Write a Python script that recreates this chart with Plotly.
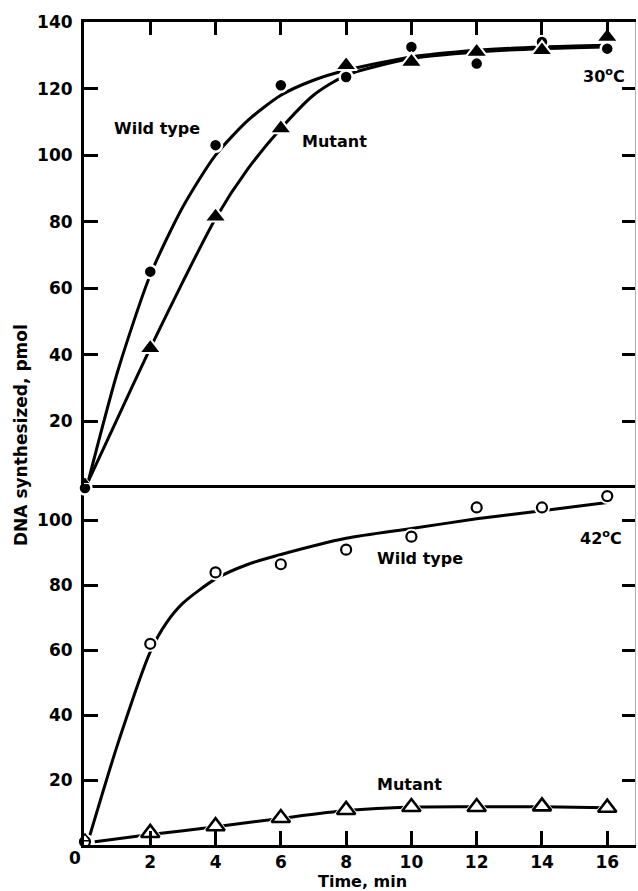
import plotly.graph_objects as go

# ---------------- data ----------------
time = [0, 2, 4, 6, 8, 10, 12, 14, 16]
wt30 = [0, 65, 103, 121, 123.5, 132.5, 127.5, 134, 132]
mut30 = [2, 42, 81.5, 108, 127, 128, 131, 131.5, 135.5]
wt42 = [1, 62, 84, 86.5, 91, 95, 104, 104, 107.5]
mut42 = [2, 3.7, 5.8, 8.3, 10.8, 11.7, 11.7, 11.9, 11.5]

# fitted curves as drawn in the figure (read at several times)
wt30_curve_t = [0.1, 1, 2, 3, 4, 5, 6, 7, 8, 10, 12, 14, 16]
wt30_curve_v = [2, 35, 64, 84.5, 100, 110.5, 118, 122.5, 125.5, 129.5, 131.5, 132.5, 133]
mut30_curve_t = [0.1, 1, 2, 3, 4, 5, 6, 7, 8, 10, 12, 14, 16]
mut30_curve_v = [2, 21, 42, 62, 81, 96, 108, 118, 124, 129, 131, 132, 132.5]
wt42_curve_t = [0.15, 1, 2, 2.5, 3, 4, 5, 6, 8, 10, 12, 14, 16]
wt42_curve_v = [3, 31, 59.5, 68.5, 74.5, 82, 86.5, 89.5, 94.5, 97.5, 100.5, 103, 105.5]
mut42_curve_t = [0.3, 2, 4, 6, 8, 10, 12, 14, 16]
mut42_curve_v = [1, 3.2, 5.6, 8.2, 10.6, 11.7, 11.8, 11.8, 11.5]

x_ticks = [2, 4, 6, 8, 10, 12, 14, 16]
top_y_ticks = [20, 40, 60, 80, 100, 120, 140]
bot_y_ticks = [20, 40, 60, 80, 100]

FONT = "DejaVu Sans"
LW = 3

fig = go.Figure()


def curve(t, v, xa, ya):
    fig.add_trace(go.Scatter(x=t, y=v, mode="lines", xaxis=xa, yaxis=ya,
                             line=dict(color="black", width=LW, shape="spline", smoothing=0.7),
                             hoverinfo="skip", showlegend=False, cliponaxis=False))


def pts(t, v, xa, ya, marker):
    fig.add_trace(go.Scatter(x=t, y=v, mode="markers", xaxis=xa, yaxis=ya, marker=marker,
                             showlegend=False, cliponaxis=False))


# top panel (30 C)
curve(wt30_curve_t, wt30_curve_v, "x2", "y2")
curve(mut30_curve_t, mut30_curve_v, "x2", "y2")
pts(time, wt30, "x2", "y2",
    dict(symbol="circle", size=13, color="#000000", line=dict(color="#ffffff", width=2.5)))
pts(time[1:], mut30[1:], "x2", "y2",
    dict(symbol="triangle-up", size=19, color="#000000", line=dict(color="#ffffff", width=2)))
pts(time[:1], mut30[:1], "x2", "y2",
    dict(symbol="triangle-up", size=9, color="#000000", line=dict(color="#ffffff", width=1)))

# bottom panel (42 C)
curve(wt42_curve_t, wt42_curve_v, "x", "y")
curve(mut42_curve_t, mut42_curve_v, "x", "y")
pts(time, wt42, "x", "y", dict(symbol="circle", size=16, color="#ffffff"))
pts(time, wt42, "x", "y",
    dict(symbol="circle", size=10, color="#ffffff", line=dict(color="#000000", width=2.2)))
pts(time[1:], mut42[1:], "x", "y", dict(symbol="triangle-up", size=23, color="#ffffff"))
pts(time[1:], mut42[1:], "x", "y",
    dict(symbol="triangle-up", size=16, color="#ffffff", line=dict(color="#000000", width=2.6)))
pts(time[:1], mut42[:1], "x", "y",
    dict(symbol="triangle-up", size=9, color="#ffffff", line=dict(color="#000000", width=1.5)))

# invisible traces for the right-hand tick axes
fig.add_trace(go.Scatter(x=[None], y=[None], xaxis="x", yaxis="y3", showlegend=False))
fig.add_trace(go.Scatter(x=[None], y=[None], xaxis="x2", yaxis="y4", showlegend=False))

split = 357 / 823
xr = [-0.03, 16.85]
tickfont = dict(family=FONT, size=17, color="black", weight="bold")

common_y = dict(ticks="inside", ticklen=14, tickwidth=LW, tickcolor="black",
                showline=True, linecolor="black", linewidth=LW, showgrid=False,
                zeroline=False, tickfont=tickfont, ticklabelstandoff=5)
right_y = dict(side="right", ticks="inside", ticklen=13, tickwidth=LW, tickcolor="black",
               showline=True, linecolor="#b0b0b0", linewidth=1, showticklabels=False,
               showgrid=False, zeroline=False)

fig.update_layout(
    width=638, height=891,
    margin=dict(l=84, r=3, t=22, b=46),
    plot_bgcolor="white", paper_bgcolor="white",
    xaxis=dict(domain=[0, 1], range=xr, anchor="y", tickvals=x_ticks,
               ticks="inside", ticklen=14, tickwidth=LW, tickcolor="black",
               showline=True, linecolor="black", linewidth=LW, mirror=True,
               showgrid=False, zeroline=False, tickfont=tickfont, ticklabelstandoff=0),
    xaxis2=dict(domain=[0, 1], range=xr, anchor="y2", side="top", tickvals=x_ticks,
                ticks="inside", ticklen=13, tickwidth=LW, tickcolor="black",
                showline=True, linecolor="black", linewidth=LW,
                showticklabels=False, showgrid=False, zeroline=False),
    yaxis=dict(domain=[0, split], range=[0, 110], anchor="x", tickvals=bot_y_ticks, **common_y),
    yaxis2=dict(domain=[split, 1], range=[0, 140], anchor="x2", tickvals=top_y_ticks, **common_y),
    yaxis3=dict(domain=[0, split], range=[0, 110], anchor="x", overlaying="y",
                tickvals=bot_y_ticks, **right_y),
    yaxis4=dict(domain=[split, 1], range=[0, 140], anchor="x2", overlaying="y2",
                tickvals=top_y_ticks, **right_y),
    showlegend=False,
)

lab = dict(family=FONT, size=16, color="black", weight="bold")
deg = dict(family=FONT, size=16, color="black", weight="bold")
fig.add_annotation(x=2.2, y=108, xref="x2", yref="y2", text="Wild type", showarrow=False, font=lab)
fig.add_annotation(x=7.65, y=104, xref="x2", yref="y2", text="Mutant", showarrow=False, font=lab)
fig.add_annotation(x=15.9, y=124, xref="x2", yref="y2", text="30<sup>o</sup>C", showarrow=False, font=deg)
fig.add_annotation(x=15.8, y=94.8, xref="x", yref="y", text="42<sup>o</sup>C", showarrow=False, font=deg)
fig.add_annotation(x=10.25, y=88.3, xref="x", yref="y", text="Wild type", showarrow=False, font=lab)
fig.add_annotation(x=9.95, y=18.5, xref="x", yref="y", text="Mutant", showarrow=False, font=lab)

# "0" tick label at the origin
fig.add_annotation(x=0, y=0, xref="x", yref="y", text="0", showarrow=False, font=tickfont,
                   yanchor="middle", yshift=-13, xshift=-10)

# axis titles
title_font = dict(family=FONT, size=17, color="black", weight="bold")
fig.add_annotation(x=-63 / 551, y=(845 - 435) / 823, xref="paper", yref="paper",
                   xanchor="center", yanchor="middle",
                   text="DNA synthesized, pmol", textangle=-90, showarrow=False, font=title_font)
fig.add_annotation(x=(362 - 84) / 551, y=0, xref="paper", yref="paper",
                   xanchor="center", yanchor="middle",
                   yshift=-36, text="Time, min",
                   showarrow=False, font=dict(family=FONT, size=16, color="black", weight="bold"))

fig.write_html("out.html")
